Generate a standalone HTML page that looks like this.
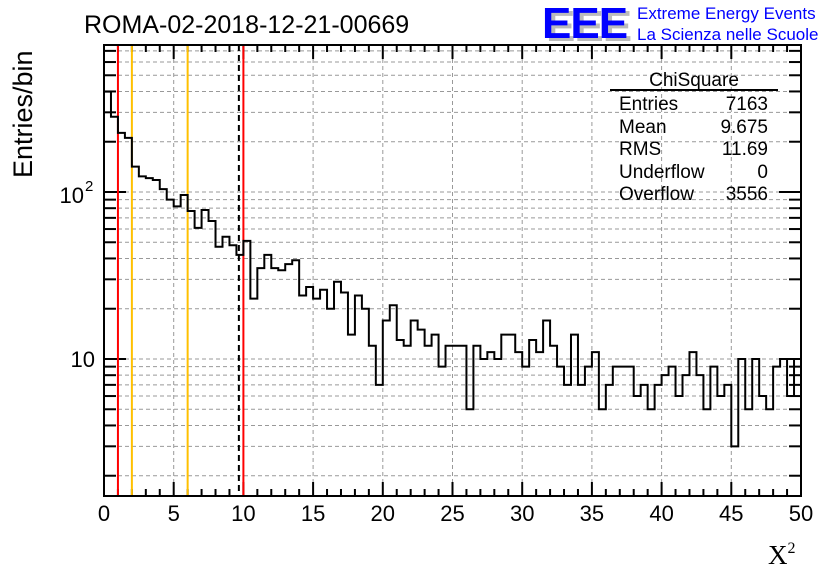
<!DOCTYPE html>
<html><head><meta charset="utf-8"><style>
body{margin:0;background:#fff;}
svg{display:block;font-family:"Liberation Sans",sans-serif;}
</style></head><body>
<svg id="chart" width="836" height="572" viewBox="0 0 836 572" xmlns="http://www.w3.org/2000/svg">
<rect width="836" height="572" fill="#fff"/>
<text x="84" y="33" font-size="25">ROMA-02-2018-12-21-00669</text>
<g>
<text x="546" y="41" font-size="44" font-weight="bold" fill="#bbb" letter-spacing="-1">EEE</text>
<text x="542" y="38" font-size="44" font-weight="bold" fill="#0000ff" letter-spacing="-1">EEE</text>
</g>
<text x="637" y="19" font-size="17" fill="#0000ff">Extreme Energy Events</text>
<text x="637" y="40" font-size="17" fill="#0000ff">La Scienza nelle Scuole</text>
<g id="grid"></g>
<g id="ticks"></g>
<g id="vlines"></g>
<path id="hist" fill="none" stroke="#000" stroke-width="2"/>
<rect x="104" y="45" width="697" height="451" fill="none" stroke="#000" stroke-width="2"/>
<g id="labels" font-size="22"></g>
<text transform="translate(32,178) rotate(-90)" font-size="27">Entries/bin</text>
<text x="768" y="564" font-size="27" font-family="'Liberation Serif',serif">X<tspan font-size="16" dy="-11">2</tspan></text>
<g font-size="19">
<text x="694" y="86" text-anchor="middle">ChiSquare</text>
<line x1="610" y1="90" x2="778" y2="90" stroke="#000" stroke-width="2"/>
<text x="619" y="110">Entries</text><text x="768" y="110" text-anchor="end">7163</text>
<text x="619" y="133">Mean</text><text x="768" y="133" text-anchor="end">9.675</text>
<text x="619" y="155">RMS</text><text x="768" y="155" text-anchor="end">11.69</text>
<text x="619" y="178">Underflow</text><text x="768" y="178" text-anchor="end">0</text>
<text x="619" y="200">Overflow</text><text x="768" y="200" text-anchor="end">3556</text>
</g>
</svg>
<script>
const binCounts = [399,282,226,211,142,124,121,118,104,90,82,96,77,61,78,67,47,54,48,42,
51,23,35,42,35,34,37,39,24,27,23,26,20,29,25,14,24,20,12,7,
17,21,13,12,17,15,12,14,9,12,12,12,5,12,10,11,10,14,14,11,
9,13,11,17,12,9,7,14,7,9,11,5,7,9,9,9,6,7,5,7,
8,9,6,8,11,8,5,9,6,7,3,10,5,10,6,5,9,10,6,10];
const binWidth = 0.5;
const xTickLabels = [0,5,10,15,20,25,30,35,40,45,50];
const refLinesRed = [1,10];
const refLinesOrange = [2,6];
const meanValue = 9.675;

const NS="http://www.w3.org/2000/svg";
const X0=104,X1=801,Y0=45,Y1=496;
const xs=v=>X0+(X1-X0)*v/50;
const ys=v=>359-167*Math.log10(v/10);
function mk(tag,attrs,parent){const e=document.createElementNS(NS,tag);for(const k in attrs)e.setAttribute(k,attrs[k]);parent.appendChild(e);return e;}
const grid=document.getElementById('grid'),ticks=document.getElementById('ticks'),labels=document.getElementById('labels'),vl=document.getElementById('vlines');
const yvals=[];for(const d of [1,10,100])for(let m=1;m<10;m++){const v=m*d;if(ys(v)>Y0&&ys(v)<Y1)yvals.push(v);}
yvals.forEach(v=>{const y=ys(v);const major=(v===10||v===100);
 const g=mk('line',{x1:X0,x2:X1,y1:y,y2:y,stroke:'#999','stroke-dasharray':'4,3','stroke-width':1},grid);
 
 
 const len=major?22:12;
 const t1=mk('line',{x1:X0,x2:X0+len,y1:y,y2:y,stroke:'#000','stroke-width':2},ticks);
 
 
 const t2=mk('line',{x1:X1-len,x2:X1,y1:y,y2:y,stroke:'#000','stroke-width':2},ticks);
 
 
});
for(let v=0;v<=50;v++){const x=xs(v);const major=v%5===0;
 if(major&&v>0&&v<50){const g=mk('line',{x1:x,x2:x,y1:Y0,y2:Y1,stroke:'#999','stroke-dasharray':'4,3','stroke-width':1},grid);
  
  }
 const len=major?14:7;
 const t1=mk('line',{x1:x,x2:x,y1:Y1,y2:Y1-len,stroke:'#000','stroke-width':2},ticks);
 
 
 const t2=mk('line',{x1:x,x2:x,y1:Y0,y2:Y0+len,stroke:'#000','stroke-width':2},ticks);
 
 
}
xTickLabels.forEach(v=>{const t=mk('text',{x:xs(v),y:521,'text-anchor':'middle'},labels);t.textContent=v;
 
 });
const l1=mk('text',{x:95,y:367,'text-anchor':'end'},labels);l1.textContent='10';


const l2=mk('text',{x:84,y:203,'text-anchor':'end'},labels);l2.textContent='10';


const sup=mk('text',{x:85,y:191,'font-size':15},labels);sup.textContent='2';


refLinesRed.forEach(v=>{const l=mk('line',{x1:xs(v),x2:xs(v),y1:Y0,y2:Y1,stroke:'#ff0000','stroke-width':2},vl);
 
 });
refLinesOrange.forEach(v=>{const l=mk('line',{x1:xs(v),x2:xs(v),y1:Y0,y2:Y1,stroke:'#ffc000','stroke-width':2},vl);
 
 });
const ml=mk('line',{x1:xs(meanValue),x2:xs(meanValue),y1:Y0,y2:Y1,stroke:'#000','stroke-width':2,'stroke-dasharray':'6,4'},vl);


let d='';binCounts.forEach((c,i)=>{const xa=xs(i*binWidth),xb=xs((i+1)*binWidth);const y=Math.max(Y0,Math.min(Y1,ys(c)));
 d+=(i===0?'M':'L')+xa+','+y+'L'+xb+','+y;});
document.getElementById('hist').setAttribute('d',d);
</script>
</body></html>
